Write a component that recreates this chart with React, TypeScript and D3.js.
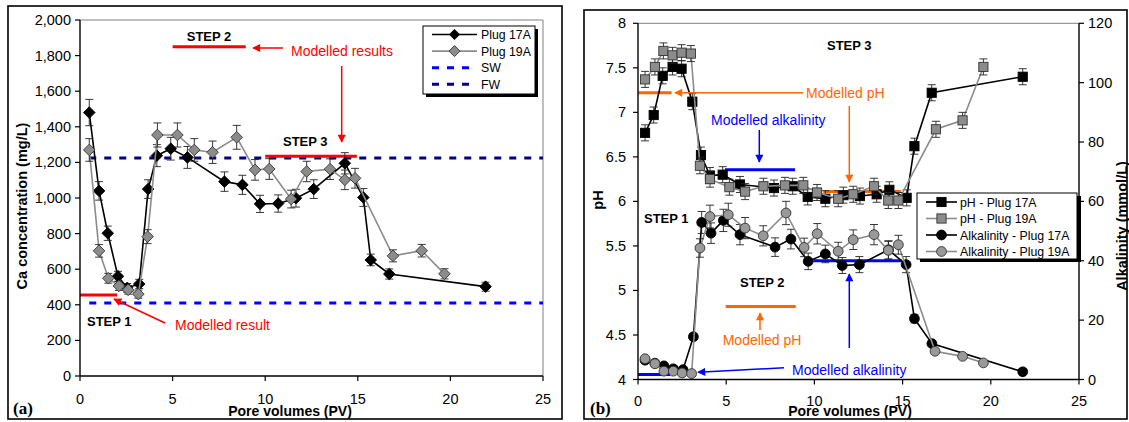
import React from 'react';
import * as d3 from 'd3';

// ---------- Panel (a): Ca concentration ----------
const pv17A = [0.5, 1.03, 1.5, 2.05, 2.55, 3.2, 3.68, 4.15, 4.9, 5.8, 7.8, 8.77, 9.72, 10.7, 11.66, 12.62, 14.3, 15.3, 15.7, 16.7, 21.9];
const ca17A = [1480, 1040, 802, 560, 495, 517, 1050, 1238, 1277, 1228, 1092, 1074, 967, 969, 999, 1050, 1195, 1003, 652, 573, 502];
const pv19A = [0.5, 1.03, 1.53, 2.1, 2.6, 3.15, 3.65, 4.18, 5.26, 6.17, 7.16, 8.46, 9.45, 10.22, 11.4, 12.24, 13.5, 14.3, 14.85, 16.9, 18.45, 19.68];
const ca19A = [1270, 703, 549, 506, 484, 460, 783, 1354, 1354, 1270, 1257, 1341, 1158, 1163, 994, 1149, 1162, 1102, 1111, 675, 704, 574];
const caTicks = [0, 200, 400, 600, 800, 1000, 1200, 1400, 1600, 1800, 2000];
const pvTicks = [0, 5, 10, 15, 20, 25];
const SW_CA = 410;
const FW_CA = 1225;
const caModelStep1 = { x: [0, 2.0], y: 455 };
const caModelStep2 = { x: [5.0, 8.95], y: 1850 };
const caModelStep3 = { x: [10.0, 14.95], y: 1235 };
const CA_ERR_PCT = 0.05;

// ---------- Panel (b): pH and alkalinity ----------
const pvPh17A = [0.40, 0.89, 1.40, 1.96, 2.47, 3.08, 3.57, 4.08, 4.80, 5.78, 7.71, 8.77, 9.62, 10.62, 11.64, 12.58, 13.53, 14.25, 15.23, 15.67, 16.65, 21.81];
const ph17A = [6.77, 6.97, 7.41, 7.51, 7.49, 7.12, 6.52, 6.29, 6.30, 6.19, 6.15, 6.17, 6.05, 6.03, 6.07, 6.06, 6.08, 6.13, 6.04, 6.62, 7.22, 7.40];
const pvPh19A = [0.40, 0.96, 1.44, 1.96, 2.47, 3.0, 3.51, 4.08, 5.18, 6.07, 7.11, 8.33, 9.37, 10.15, 11.35, 12.2, 13.38, 14.19, 14.76, 16.89, 18.4, 19.58];
const ph19A = [7.37, 7.51, 7.69, 7.64, 7.67, 7.66, 6.40, 6.25, 6.16, 6.11, 6.17, 6.18, 6.18, 6.10, 6.03, 6.08, 6.17, 6.01, 6.01, 6.81, 6.91, 7.51];
const pvAlk17A = [0.40, 0.96, 1.47, 2.0, 2.55, 3.14, 3.61, 4.14, 4.84, 5.78, 7.77, 8.67, 9.65, 10.62, 11.58, 12.55, 14.2, 15.2, 15.67, 16.66, 21.81];
const alk17A = [6.5, 5.5, 4.6, 3.6, 3.3, 14.4, 52.9, 49.3, 53.6, 48.8, 44.6, 47.3, 39.8, 42.3, 38.4, 38.7, 43.7, 38.7, 20.5, 12.1, 2.6];
const pvAlk19A = [0.40, 0.96, 1.47, 2.0, 2.5, 3.04, 3.51, 4.08, 5.12, 6.07, 7.1, 8.39, 9.42, 10.16, 11.35, 12.2, 13.38, 14.19, 14.76, 16.84, 18.4, 19.58];
const alk19A = [7.0, 5.3, 2.8, 2.8, 2.2, 2.0, 44.3, 54.9, 55.5, 51.0, 48.4, 56.1, 44.5, 49.1, 43.2, 47.1, 48.8, 43.5, 45.4, 9.5, 7.8, 5.6];
const phTicks = [4, 4.5, 5, 5.5, 6, 6.5, 7, 7.5, 8];
const alkTicks = [0, 20, 40, 60, 80, 100, 120];
const PH_ERR = 0.09;
const ALK_ERR_PCT = 0.07;
const phModelStep1 = { x: [0, 1.9], y: 7.22 };
const phModelStep2 = { x: [4.97, 8.94], y: 4.82 };
const phModelStep3 = { x: [10.5, 14.9], y: 6.11 };
const alkModelStep1 = { x: [0, 1.82], y: 1.7 };
const alkModelStep2 = { x: [4.93, 8.9], y: 70.7 };
const alkModelStep3 = { x: [9.94, 14.95], y: 40 };

const FONT = '"Liberation Sans", Arial, sans-serif';
const RED = '#FF0000';
const ORANGE = '#FF6600';
const BLUE = '#0000FF';
const NAVY = '#000080';
const GRAYLINE = '#8c8c8c';
const GRAYFILL = '#8c8c8c';

type Pt = [number, number];
const zip = (xs: number[], ys: number[]): Pt[] => xs.map((x, i) => [x, ys[i]]);

const diamond = (cx: number, cy: number, r: number) => `M${cx},${cy - r}L${cx + r},${cy}L${cx},${cy + r}L${cx - r},${cy}Z`;

function ErrBar({ x, y1, y2 }: { x: number; y1: number; y2: number }) {
  return (
    <g stroke="#222" strokeWidth={0.9}>
      <line x1={x} x2={x} y1={y1} y2={y2} />
      <line x1={x - 4} x2={x + 4} y1={y1} y2={y1} />
      <line x1={x - 4} x2={x + 4} y1={y2} y2={y2} />
    </g>
  );
}

export default function App() {
  // scales
  const xL = d3.scaleLinear().domain([0, 25]).range([80, 543]);
  const yL = d3.scaleLinear().domain([0, 2000]).range([376, 20]);
  const xR = d3.scaleLinear().domain([0, 25]).range([638, 1079]);
  const yPh = d3.scaleLinear().domain([4, 8]).range([379.5, 23.3]);
  const yAlk = d3.scaleLinear().domain([0, 120]).range([379.5, 23.3]);

  const lineL = d3.line<Pt>().x((d) => xL(d[0])).y((d) => yL(d[1]));
  const linePh = d3.line<Pt>().x((d) => xR(d[0])).y((d) => yPh(d[1]));
  const lineAlk = d3.line<Pt>().x((d) => xR(d[0])).y((d) => yAlk(d[1]));

  const s17A = zip(pv17A, ca17A);
  const s19A = zip(pv19A, ca19A);
  const sPh17 = zip(pvPh17A, ph17A);
  const sPh19 = zip(pvPh19A, ph19A);
  const sAlk17 = zip(pvAlk17A, alk17A);
  const sAlk19 = zip(pvAlk19A, alk19A);

  const fmt = d3.format(',');

  const caSeries = (pts: Pt[], color: string, fill: string, stroke: string) => (
    <g>
      <path d={lineL(pts) || ''} fill="none" stroke={color} strokeWidth={1.6} />
      {pts.map((d, i) => (
        <ErrBar key={'e' + i} x={xL(d[0])} y1={yL(d[1] * (1 + CA_ERR_PCT))} y2={yL(d[1] * (1 - CA_ERR_PCT))} />
      ))}
      {pts.map((d, i) => (
        <path key={'m' + i} d={diamond(xL(d[0]), yL(d[1]), 5.8)} fill={fill} stroke={stroke} strokeWidth={0.9} />
      ))}
    </g>
  );

  const phSeries = (pts: Pt[], color: string, fill: string, stroke: string) => (
    <g>
      <path d={linePh(pts) || ''} fill="none" stroke={color} strokeWidth={1.6} />
      {pts.map((d, i) => (
        <ErrBar key={'e' + i} x={xR(d[0])} y1={yPh(d[1] + PH_ERR)} y2={yPh(d[1] - PH_ERR)} />
      ))}
      {pts.map((d, i) => (
        <rect key={'m' + i} x={xR(d[0]) - 4.6} y={yPh(d[1]) - 4.6} width={9.2} height={9.2} fill={fill} stroke={stroke} strokeWidth={0.9} />
      ))}
    </g>
  );

  const alkSeries = (pts: Pt[], color: string, fill: string, stroke: string) => (
    <g>
      <path d={lineAlk(pts) || ''} fill="none" stroke={color} strokeWidth={1.6} />
      {pts.map((d, i) => (
        <ErrBar key={'e' + i} x={xR(d[0])} y1={yAlk(d[1] * (1 + ALK_ERR_PCT))} y2={yAlk(d[1] * (1 - ALK_ERR_PCT))} />
      ))}
      {pts.map((d, i) => (
        <circle key={'m' + i} cx={xR(d[0])} cy={yAlk(d[1])} r={4.9} fill={fill} stroke={stroke} strokeWidth={0.9} />
      ))}
    </g>
  );

  const hSeg = (xs: number[], y: number, xs2: (v: number) => number, ys2: (v: number) => number, color: string) => (
    <line x1={xs2(xs[0])} x2={xs2(xs[1])} y1={ys2(y)} y2={ys2(y)} stroke={color} strokeWidth={3} />
  );

  const legendA = [
    { label: 'Plug 17A', type: 'black' },
    { label: 'Plug 19A', type: 'gray' },
    { label: 'SW', type: 'sw' },
    { label: 'FW', type: 'fw' },
  ];
  const legendB = [
    { label: 'pH - Plug 17A', type: 'sqBlack' },
    { label: 'pH - Plug 19A', type: 'sqGray' },
    { label: 'Alkalinity - Plug 17A', type: 'ciBlack' },
    { label: 'Alkalinity - Plug 19A', type: 'ciGray' },
  ];

  return (
    <svg width={1129} height={422} style={{ position: 'absolute', left: 0, top: 0, background: '#fff' }} fontFamily={FONT}>
      <defs>
        {[['aRed', RED], ['aOrange', ORANGE], ['aBlue', BLUE]].map(([id, c]) => (
          <marker key={id} id={id} viewBox="0 0 10 10" refX={9} refY={5} markerWidth={9} markerHeight={8} markerUnits="userSpaceOnUse" orient="auto">
            <path d="M0,0L10,5L0,10Z" fill={c} />
          </marker>
        ))}
      </defs>
      <rect x={0} y={0} width={1129} height={422} fill="#fff" />

      {/* ===== Panel (a) ===== */}
      <rect x={8} y={6} width={554} height={413} fill="none" stroke="#000" strokeWidth={1.6} />
      {/* plot area border */}
      <line x1={80} x2={543} y1={20} y2={20} stroke="#808080" strokeWidth={1} />
      <line x1={543} x2={543} y1={20} y2={376} stroke="#808080" strokeWidth={1} />
      {/* SW / FW */}
      <line x1={xL(0.5)} x2={xL(25)} y1={yL(SW_CA)} y2={yL(SW_CA)} stroke={BLUE} strokeWidth={3} strokeDasharray="7,8" />
      <line x1={xL(0.5)} x2={xL(25)} y1={yL(FW_CA)} y2={yL(FW_CA)} stroke={NAVY} strokeWidth={3} strokeDasharray="7,8" />
      {/* modelled */}
      {hSeg(caModelStep1.x, caModelStep1.y, xL, yL, RED)}
      {hSeg(caModelStep2.x, caModelStep2.y, xL, yL, RED)}
      {hSeg(caModelStep3.x, caModelStep3.y, xL, yL, RED)}
      {caSeries(s17A, '#000', '#000', '#000')}
      {caSeries(s19A, GRAYLINE, GRAYFILL, '#333')}
      {/* axes */}
      <line x1={80} x2={80} y1={20} y2={376} stroke="#000" strokeWidth={1.4} />
      <line x1={80} x2={543} y1={376} y2={376} stroke="#000" strokeWidth={1.4} />
      {caTicks.map((t) => (
        <g key={'ct' + t}>
          <line x1={75} x2={80} y1={yL(t)} y2={yL(t)} stroke="#000" strokeWidth={1.2} />
          <text x={71} y={yL(t) + 5} fontSize={14.5} textAnchor="end">{fmt(t)}</text>
        </g>
      ))}
      {pvTicks.map((t) => (
        <g key={'pt' + t}>
          <line x1={xL(t)} x2={xL(t)} y1={376} y2={381} stroke="#000" strokeWidth={1.2} />
          <text x={xL(t)} y={404} fontSize={14.5} textAnchor="middle">{t}</text>
        </g>
      ))}
      <text x={290} y={416} fontSize={14} fontWeight="bold" textAnchor="middle">Pore volumes (PV)</text>
      <text transform="translate(27,206) rotate(-90)" fontSize={14.5} fontWeight="bold" textAnchor="middle">Ca concentration (mg/L)</text>
      <text x={13} y={414} fontSize={17} fontWeight="bold" fontFamily='"Liberation Serif", "Times New Roman", serif'>(a)</text>
      {/* annotations */}
      <text x={209} y={41} fontSize={13} fontWeight="bold" textAnchor="middle">STEP 2</text>
      <line x1={283} x2={253} y1={48} y2={48} stroke={RED} strokeWidth={1.5} markerEnd="url(#aRed)" />
      <text x={291} y={56} fontSize={14} fill={RED}>Modelled results</text>
      <line x1={341.7} x2={341.7} y1={66} y2={142} stroke={RED} strokeWidth={1.5} markerEnd="url(#aRed)" />
      <text x={283} y={146} fontSize={13} fontWeight="bold">STEP 3</text>
      <text x={87} y={326} fontSize={13} fontWeight="bold">STEP 1</text>
      <line x1={165} x2={114} y1={323} y2={299} stroke={RED} strokeWidth={1.5} markerEnd="url(#aRed)" />
      <text x={175} y={330} fontSize={14} fill={RED}>Modelled result</text>
      {/* legend a */}
      <rect x={426} y={29} width={112} height={68} fill="#000" />
      <rect x={423} y={26} width={112} height={68} fill="#fff" stroke="#000" strokeWidth={1} />
      {legendA.map((e, i) => {
        const y = 34.5 + i * 16.6;
        return (
          <g key={e.label}>
            {e.type === 'black' && (
              <g>
                <line x1={432} x2={477} y1={y} y2={y} stroke="#000" strokeWidth={1.6} />
                <path d={diamond(454.5, y, 5.5)} fill="#000" />
              </g>
            )}
            {e.type === 'gray' && (
              <g>
                <line x1={432} x2={477} y1={y} y2={y} stroke={GRAYLINE} strokeWidth={1.6} />
                <path d={diamond(454.5, y, 5.5)} fill={GRAYFILL} stroke="#333" strokeWidth={0.9} />
              </g>
            )}
            {(e.type === 'sw' || e.type === 'fw') && (
              <line x1={432} x2={477} y1={y} y2={y} stroke={e.type === 'sw' ? BLUE : NAVY} strokeWidth={3} strokeDasharray="7,8" />
            )}
            <text x={481} y={y + 4.5} fontSize={12.3}>{e.label}</text>
          </g>
        );
      })}

      {/* ===== Panel (b) ===== */}
      <rect x={584} y={10} width={543} height={409} fill="none" stroke="#000" strokeWidth={1.6} />
      <line x1={638} x2={1079} y1={23.3} y2={23.3} stroke="#808080" strokeWidth={1} />
      {/* modelled */}
      {hSeg(phModelStep1.x, phModelStep1.y, xR, yPh, ORANGE)}
      {hSeg(phModelStep2.x, phModelStep2.y, xR, yPh, ORANGE)}
      {hSeg(phModelStep3.x, phModelStep3.y, xR, yPh, ORANGE)}
      {hSeg(alkModelStep1.x, alkModelStep1.y, xR, yAlk, BLUE)}
      {hSeg(alkModelStep2.x, alkModelStep2.y, xR, yAlk, BLUE)}
      {hSeg(alkModelStep3.x, alkModelStep3.y, xR, yAlk, BLUE)}
      {phSeries(sPh17, '#000', '#000', '#000')}
      {phSeries(sPh19, GRAYLINE, GRAYFILL, '#333')}
      {alkSeries(sAlk17, '#000', '#000', '#000')}
      {alkSeries(sAlk19, GRAYLINE, '#999', '#333')}
      {/* axes */}
      <line x1={638} x2={638} y1={23.3} y2={379.5} stroke="#000" strokeWidth={1.4} />
      <line x1={1079} x2={1079} y1={23.3} y2={379.5} stroke="#000" strokeWidth={1.4} />
      <line x1={638} x2={1079} y1={379.5} y2={379.5} stroke="#000" strokeWidth={1.4} />
      {phTicks.map((t) => (
        <g key={'ph' + t}>
          <line x1={633} x2={638} y1={yPh(t)} y2={yPh(t)} stroke="#000" strokeWidth={1.2} />
          <text x={626} y={yPh(t) + 5} fontSize={14.5} textAnchor="end">{t}</text>
        </g>
      ))}
      {alkTicks.map((t) => (
        <g key={'al' + t}>
          <line x1={1079} x2={1084} y1={yAlk(t)} y2={yAlk(t)} stroke="#000" strokeWidth={1.2} />
          <text x={1088} y={yAlk(t) + 5} fontSize={14.5}>{t}</text>
        </g>
      ))}
      {pvTicks.map((t) => (
        <g key={'pr' + t}>
          <line x1={xR(t)} x2={xR(t)} y1={379.5} y2={384.5} stroke="#000" strokeWidth={1.2} />
          <text x={xR(t)} y={406} fontSize={14.5} textAnchor="middle">{t}</text>
        </g>
      ))}
      <text x={850} y={416} fontSize={14} fontWeight="bold" textAnchor="middle">Pore volumes (PV)</text>
      <text transform="translate(603,200) rotate(-90)" fontSize={14.5} fontWeight="bold" textAnchor="middle">pH</text>
      <text transform="translate(1127,226) rotate(-90)" fontSize={14.5} fontWeight="bold" textAnchor="middle">Alkalinity (mmol/L)</text>
      <text x={590} y={414} fontSize={17} fontWeight="bold" fontFamily='"Liberation Serif", "Times New Roman", serif'>(b)</text>
      {/* annotations */}
      <text x={827} y={50} fontSize={13} fontWeight="bold">STEP 3</text>
      <line x1={803} x2={675} y1={92.7} y2={92.7} stroke={ORANGE} strokeWidth={1.5} markerEnd="url(#aOrange)" />
      <text x={806} y={97.5} fontSize={14} fill={ORANGE}>Modelled pH</text>
      <line x1={849.3} x2={849.3} y1={106} y2={182} stroke={ORANGE} strokeWidth={1.5} markerEnd="url(#aOrange)" />
      <text x={711} y={124.5} fontSize={14} fill={BLUE}>Modelled alkalinity</text>
      <line x1={759.3} x2={759.3} y1={130} y2={162} stroke={BLUE} strokeWidth={1.5} markerEnd="url(#aBlue)" />
      <text x={644} y={223} fontSize={13} fontWeight="bold">STEP 1</text>
      <text x={740} y={286.5} fontSize={13} fontWeight="bold">STEP 2</text>
      <line x1={760} x2={760} y1={330} y2={313} stroke={ORANGE} strokeWidth={1.5} markerEnd="url(#aOrange)" />
      <text x={762} y={345} fontSize={14} fill={ORANGE} textAnchor="middle">Modelled pH</text>
      <line x1={849.3} x2={849.3} y1={348} y2={274} stroke={BLUE} strokeWidth={1.5} markerEnd="url(#aBlue)" />
      <line x1={784} x2={698} y1={367.7} y2={372.3} stroke={BLUE} strokeWidth={1.5} markerEnd="url(#aBlue)" />
      <text x={792} y={375} fontSize={14} fill={BLUE}>Modelled alkalinity</text>
      {/* legend b */}
      <rect x={920} y={196} width={161} height={66} fill="#000" />
      <rect x={917} y={193} width={160} height={66} fill="#fff" stroke="#000" strokeWidth={1} />
      {legendB.map((e, i) => {
        const y = 202 + i * 16.5;
        const black = e.type.endsWith('Black');
        const sq = e.type.startsWith('sq');
        return (
          <g key={e.label}>
            <line x1={926} x2={957} y1={y} y2={y} stroke={black ? '#000' : GRAYLINE} strokeWidth={1.6} />
            {sq ? (
              <rect x={941.5 - 4.6} y={y - 4.6} width={9.2} height={9.2} fill={black ? '#000' : GRAYFILL} stroke={black ? '#000' : '#333'} strokeWidth={0.9} />
            ) : (
              <circle cx={941.5} cy={y} r={4.9} fill={black ? '#000' : '#999'} stroke={black ? '#000' : '#333'} strokeWidth={0.9} />
            )}
            <text x={960} y={y + 4.5} fontSize={12.3}>{e.label}</text>
          </g>
        );
      })}
    </svg>
  );
}
